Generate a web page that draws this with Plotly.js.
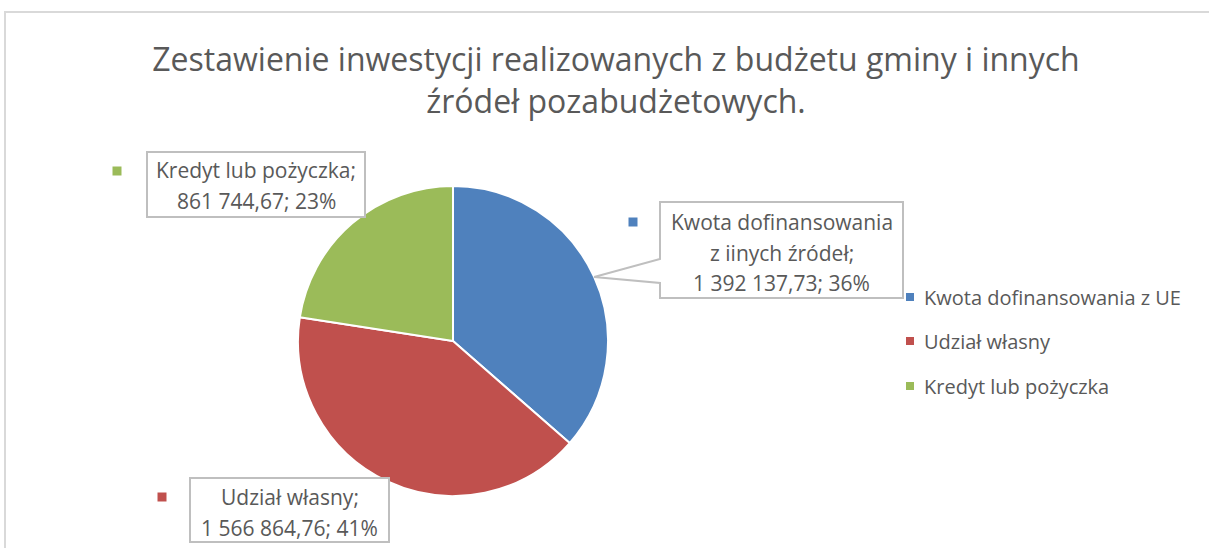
<!DOCTYPE html>
<html>
<head>
<meta charset="utf-8">
<script src="https://cdn.plot.ly/plotly-3.0.1.min.js"></script>
<style>html,body{margin:0;padding:0;background:#fff;}#chart{width:1209px;height:548px;}</style>
</head>
<body>
<div id="chart"></div>
<script>
// ---- data ----
const categories = ["Kwota dofinansowania z UE", "Udział własny", "Kredyt lub pożyczka"];
const values = [1392137.73, 1566864.76, 861744.67];
const labelNames = ["Kwota dofinansowania<br>z iinych źródeł", "Udział własny", "Kredyt lub pożyczka"];
const colors = ["#4F81BD", "#C0504D", "#9BBB59"];
const titleText = "Zestawienie inwestycji realizowanych z budżetu gminy i innych<br>źródeł pozabudżetowych.";

// ---- layout helpers ----
const W = 1209, H = 548;
const px = x => x / W;
const py = y => 1 - y / H;
const FONT = "Open Sans";
const GREY = "#595959";

// pie geometry (pixels)
const cx = 453, cy = 341, R = 155;

function fmtNum(v) {
  const s = v.toFixed(2).split(".");
  const int = s[0].replace(/\B(?=(\d{3})+(?!\d))/g, " ");
  return int + "," + s[1];
}
const total = values.reduce((a, b) => a + b, 0);
const labelTexts = values.map((v, i) =>
  labelNames[i] + ";<br>" + fmtNum(v) + "; " + Math.round(v / total * 100) + "%");

// label box placement (pixels)
const boxes = [
  {box: [660, 202, 903, 298], key: [633, 222], lines: [222, 253, 283], tail: true},
  {box: [190, 478, 389, 542], key: [162, 497], lines: [497, 528], tail: false},
  {box: [147, 152, 365, 217], key: [117, 171], lines: [170, 201], tail: false}
];

const shapes = [];
const annotations = [];

// chart area border
shapes.push({type: "path", xref: "paper", yref: "paper",
  path: `M${px(1300)},${py(12)} L${px(5)},${py(12)} L${px(5)},${py(600)}`,
  line: {color: "#d9d9d9", width: 2}});

function edgePoint(i) {
  let before = 0;
  for (let k = 0; k < i; k++) before += values[k];
  const frac = (before + values[i] / 2) / total;
  const a = frac * 2 * Math.PI;
  return [cx + R * Math.sin(a), cy - R * Math.cos(a)];
}

boxes.forEach((b, i) => {
  const [l, t, r, bt] = b.box;
  let path;
  if (b.tail) {
    const [ex, ey] = edgePoint(i);
    path = `M${px(l)},${py(t)} L${px(r)},${py(t)} L${px(r)},${py(bt)} L${px(l)},${py(bt)} ` +
      `L${px(l)},${py(283)} L${px(ex)},${py(ey)} L${px(l)},${py(259)} Z`;
  } else {
    path = `M${px(l)},${py(t)} L${px(r)},${py(t)} L${px(r)},${py(bt)} L${px(l)},${py(bt)} Z`;
  }
  shapes.push({type: "path", xref: "paper", yref: "paper", path: path,
    fillcolor: "#ffffff", line: {color: "#bfbfbf", width: 2}, layer: "above"});
  const s = 4.5;
  shapes.push({type: "rect", xref: "paper", yref: "paper",
    x0: px(b.key[0] - s), x1: px(b.key[0] + s), y0: py(b.key[1] + s), y1: py(b.key[1] - s),
    fillcolor: colors[i], line: {width: 0}, layer: "above"});
  const lines = labelTexts[i].split("<br>");
  lines.forEach((ln, j) => {
    annotations.push({xref: "paper", yref: "paper", x: px((l + r) / 2), y: py(b.lines[j]),
      xanchor: "center", yanchor: "middle", showarrow: false, text: ln,
      font: {family: FONT, size: 21, color: GREY}});
  });
});

// legend (custom, to match spacing)
const legendY = [297, 341, 386];
categories.forEach((c, i) => {
  const s = 4;
  shapes.push({type: "rect", xref: "paper", yref: "paper",
    x0: px(910 - s), x1: px(910 + s), y0: py(legendY[i] + s), y1: py(legendY[i] - s),
    fillcolor: colors[i], line: {width: 0}});
  annotations.push({xref: "paper", yref: "paper", x: px(922), y: py(legendY[i]),
    xanchor: "left", yanchor: "middle", showarrow: false, text: c,
    font: {family: FONT, size: 20, color: GREY}});
});

const trace = {
  type: "pie",
  labels: categories,
  values: values,
  sort: false,
  direction: "clockwise",
  rotation: 0,
  textinfo: "none",
  hoverinfo: "label+value+percent",
  marker: {colors: colors, line: {color: "#ffffff", width: 2}},
  domain: {x: [px(cx - R), px(cx + R)], y: [py(cy + R), py(cy - R)]},
  showlegend: false
};

const layout = {
  width: W, height: H,
  margin: {l: 0, r: 0, t: 0, b: 0},
  paper_bgcolor: "#ffffff",
  showlegend: false,
  title: {text: titleText, x: px(616), xanchor: "center", y: py(71), yanchor: "middle",
    xref: "paper", yref: "paper",
    font: {family: FONT, size: 32, color: GREY}},
  shapes: shapes,
  annotations: annotations
};

Plotly.newPlot("chart", [trace], layout, {displayModeBar: false, staticPlot: true});
</script>
</body>
</html>
